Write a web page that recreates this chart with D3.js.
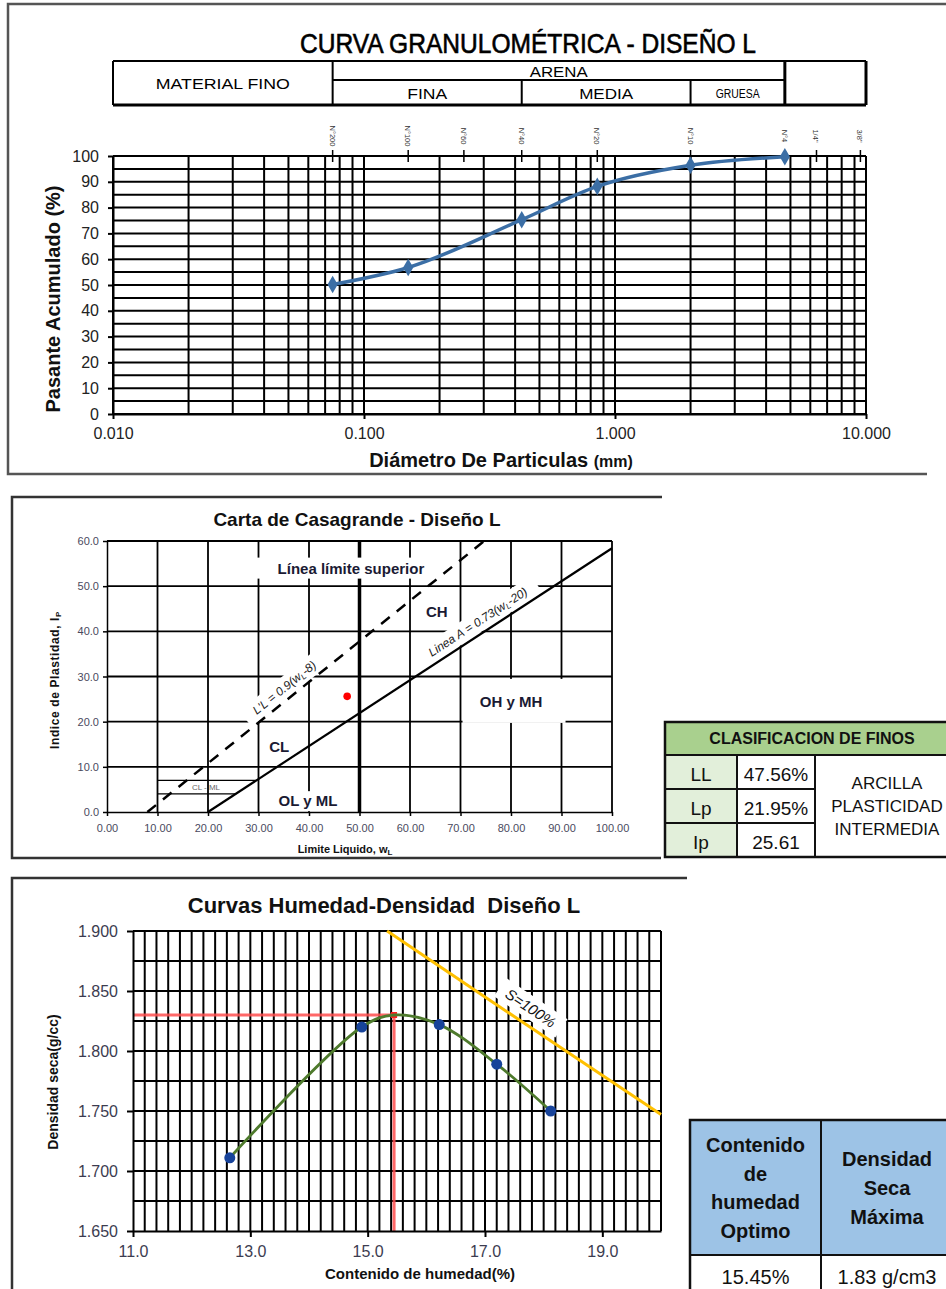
<!DOCTYPE html>
<html>
<head>
<meta charset="utf-8">
<script src="https://cdnjs.cloudflare.com/ajax/libs/d3/7.8.5/d3.min.js"></script>
<style>
  body { margin: 0; background: #fff; }
  svg { display: block; }
  text { font-family: "Liberation Sans", Arial, sans-serif; }
</style>
</head>
<body>
<svg width="946" height="1289"></svg>
<script>
// ---------- datos: curva granulometrica ----------
var sieveNames = ["N°200", "N°100", "N°60", "N°40", "N°20", "N°10", "N°4", "1/4\"", "3/8\""];
var sieveMm = [0.075, 0.150, 0.250, 0.425, 0.850, 2.000, 4.750, 6.350, 9.500];
var diametro = [0.075, 0.150, 0.425, 0.850, 2.000, 4.750];
var pasante = [50.2, 56.8, 75.3, 88.2, 96.4, 99.7];
var gradXTicks = [0.01, 0.1, 1, 10];
var gradYTicks = [0, 10, 20, 30, 40, 50, 60, 70, 80, 90, 100];
var zoneNames = ["MATERIAL FINO", "FINA", "MEDIA", "GRUESA"];
var zoneBounds = [0.01, 0.075, 0.425, 2.0, 4.75, 10];

// ---------- datos: carta de Casagrande ----------
var casaXTicks = [0, 10, 20, 30, 40, 50, 60, 70, 80, 90, 100];
var casaYTicks = [0, 10, 20, 30, 40, 50, 60];
var lineaA_w = [20, 100], lineaA_ip = [0, 58.4];
var lineaU_w = [8, 74.7], lineaU_ip = [0, 60];
var clml_ip = [4, 7], clml_wEnd = [25.5, 29.6];
var muestraLL = 47.56, muestraIP = 25.61;
var finosLabels = ["LL", "Lp", "Ip"];
var finosValues = ["47.56%", "21.95%", "25.61"];
var finosClase = ["ARCILLA", "PLASTICIDAD", "INTERMEDIA"];

// ---------- datos: proctor ----------
var humW = [12.65, 14.90, 16.22, 17.20, 18.12];
var humD = [1.711, 1.820, 1.822, 1.789, 1.750];
var optW = 15.45, optD = 1.83;
var satW = [15.33, 17.0, 20.0];
var satD = [1.900, 1.845, 1.747];
var humXTicks = [11, 13, 15, 17, 19];
var humYTicks = [1.65, 1.70, 1.75, 1.80, 1.85, 1.90];

var svg = d3.select("svg");
var narrow = '"Liberation Sans Narrow","Arial Narrow","Liberation Sans",sans-serif';
var calibri = 'Carlito,Lato,"Open Sans",sans-serif';

function styleAxis(sel, font, size, color, w) {
    sel.select(".domain").attr("stroke", "#000").attr("stroke-width", w);
    sel.selectAll(".tick line").attr("stroke", "#000").attr("stroke-width", w);
    sel.selectAll(".tick text").attr("font-family", font).attr("font-size", size).attr("fill", color);
}

// =============== CURVA GRANULOMETRICA ===============
var gx = d3.scaleLog().domain([0.01, 10]).range([113, 866]),
    gy = d3.scaleLinear().domain([0, 100]).range([414, 156]);
var p1 = svg.append("g");

p1.append("path").attr("d", "M946,4H8V474H927")
  .attr("fill", "none").attr("stroke", "#555").attr("stroke-width", 2.5);

p1.append("text")
  .attr("x", 528).attr("y", 53)
  .attr("text-anchor", "middle")
  .attr("font-family", narrow).attr("font-size", 27)
  .attr("stroke", "#000").attr("stroke-width", 0.6)
  .attr("textLength", 456).attr("lengthAdjust", "spacingAndGlyphs")
  .text("CURVA GRANULOMÉTRICA - DISEÑO L");

// tabla de cabecera
var hTop = 61, hMid = 80, hBot = 105;
var head = p1.append("g").attr("stroke", "#000").attr("fill", "none");
head.append("line").attr("x1", gx(0.01)).attr("x2", gx(10)).attr("y1", hTop).attr("y2", hTop).attr("stroke-width", 2);
head.append("line").attr("x1", gx(0.01)).attr("x2", gx(10)).attr("y1", hBot).attr("y2", hBot).attr("stroke-width", 3);
head.append("line").attr("x1", gx(0.075)).attr("x2", gx(4.75)).attr("y1", hMid).attr("y2", hMid).attr("stroke-width", 2);
zoneBounds.forEach(function(b, i) {
    head.append("line")
      .attr("x1", gx(b)).attr("x2", gx(b))
      .attr("y1", (i == 2 || i == 3) ? hMid : hTop).attr("y2", hBot)
      .attr("stroke-width", (i >= 4) ? 3 : 2);
});
p1.append("text").attr("x", (gx(0.01) + gx(0.075)) / 2).attr("y", (hTop + hBot) / 2)
  .attr("text-anchor", "middle").attr("dominant-baseline", "central")
  .attr("font-family", narrow).attr("font-size", 15)
  .attr("textLength", 134).attr("lengthAdjust", "spacingAndGlyphs")
  .text(zoneNames[0]);
p1.append("text").attr("x", (gx(0.075) + gx(4.75)) / 2).attr("y", (hTop + hMid) / 2 + 1)
  .attr("text-anchor", "middle").attr("dominant-baseline", "central")
  .attr("font-family", narrow).attr("font-size", 14)
  .attr("textLength", 58).attr("lengthAdjust", "spacingAndGlyphs")
  .text("ARENA");
[1, 2, 3].forEach(function(i) {
    var lens = [0, 40, 54, 44];
    p1.append("text")
      .attr("x", (gx(zoneBounds[i]) + gx(zoneBounds[i + 1])) / 2)
      .attr("y", (hMid + hBot) / 2 + 1)
      .attr("text-anchor", "middle").attr("dominant-baseline", "central")
      .attr("font-family", narrow).attr("font-size", i == 3 ? 12 : 14)
      .attr("textLength", lens[i]).attr("lengthAdjust", "spacingAndGlyphs")
      .text(zoneNames[i]);
});

// mallas (arriba)
sieveMm.forEach(function(s, i) {
    p1.append("line").attr("x1", gx(s)).attr("x2", gx(s)).attr("y1", 150).attr("y2", 162)
      .attr("stroke", "#000").attr("stroke-width", 1.5);
    p1.append("text")
      .attr("transform", "translate(" + (gx(s) - 3) + ",136) rotate(90)")
      .attr("text-anchor", "middle").attr("font-size", 7.5).attr("fill", "#333")
      .text(sieveNames[i]);
});

// grilla
p1.append("g").selectAll("line").data(gx.ticks()).enter().append("line")
  .attr("x1", function(d) { return gx(d); }).attr("x2", function(d) { return gx(d); })
  .attr("y1", gy(100)).attr("y2", gy(0))
  .attr("stroke", "#000").attr("stroke-width", 2);
p1.append("g").selectAll("line").data(gy.ticks(20)).enter().append("line")
  .attr("x1", gx(0.01)).attr("x2", gx(10))
  .attr("y1", function(d) { return gy(d); }).attr("y2", function(d) { return gy(d); })
  .attr("stroke", "#000").attr("stroke-width", 2);

var ax1 = p1.append("g").attr("transform", "translate(113,0)")
  .call(d3.axisLeft(gy).tickValues(gradYTicks).tickSize(5).tickPadding(9).tickSizeOuter(0));
styleAxis(ax1, "Liberation Sans", 16, "#222", 2);
var ax2 = p1.append("g").attr("transform", "translate(0,414)")
  .call(d3.axisBottom(gx).tickValues(gradXTicks).tickFormat(d3.format(".3f")).tickSize(5).tickPadding(9).tickSizeOuter(0));
styleAxis(ax2, "Liberation Sans", 16, "#222", 2);

var granData = diametro.map(function(d, i) { return [d, pasante[i]]; });
p1.append("path").datum(granData)
  .attr("fill", "none").attr("stroke", "#3b6ea5").attr("stroke-width", 3.5)
  .attr("d", d3.line()
      .x(function(d) { return gx(d[0]); })
      .y(function(d) { return gy(d[1]); })
      .curve(d3.curveMonotoneX));
p1.selectAll(".gpt").data(granData).enter().append("path")
  .attr("class", "gpt")
  .attr("transform", function(d) { return "translate(" + gx(d[0]) + "," + gy(d[1]) + ")"; })
  .attr("d", d3.symbol(d3.symbolDiamond).size(90))
  .attr("fill", "#3b6ea5");

p1.append("text")
  .attr("transform", "translate(53,299) rotate(-90)")
  .attr("text-anchor", "middle").attr("dominant-baseline", "central")
  .attr("font-size", 20).attr("font-weight", "bold").attr("fill", "#111")
  .text("Pasante Acumulado (%)");
var xt1 = p1.append("text").attr("x", 501).attr("y", 467)
  .attr("text-anchor", "middle").attr("font-weight", "bold").attr("fill", "#111");
xt1.append("tspan").attr("font-size", 20).text("Diámetro De Particulas ");
xt1.append("tspan").attr("font-size", 16).text("(mm)");

// =============== CARTA DE CASAGRANDE ===============
var cx = d3.scaleLinear().domain([0, 100]).range([107, 612]),
    cy = d3.scaleLinear().domain([0, 60]).range([812, 541]);
var p2 = svg.append("g");

p2.append("path").attr("d", "M662,497H12V858H661")
  .attr("fill", "none").attr("stroke", "#333").attr("stroke-width", 2.5);

p2.append("text").attr("x", 357).attr("y", 526)
  .attr("text-anchor", "middle").attr("font-size", 19).attr("font-weight", "bold").attr("fill", "#111")
  .text("Carta de Casagrande - Diseño L");

p2.append("g").selectAll("line").data(casaXTicks.slice(1)).enter().append("line")
  .attr("x1", function(d) { return cx(d); }).attr("x2", function(d) { return cx(d); })
  .attr("y1", cy(60)).attr("y2", cy(0))
  .attr("stroke", "#000").attr("stroke-width", function(d) { return d == 50 ? 3.5 : 1.8; });
p2.append("g").selectAll("line").data(casaYTicks.slice(1)).enter().append("line")
  .attr("x1", cx(0)).attr("x2", cx(100))
  .attr("y1", function(d) { return cy(d); }).attr("y2", function(d) { return cy(d); })
  .attr("stroke", "#000").attr("stroke-width", 1.8);

// cajas blancas bajo etiquetas
var casaBoxes = [
    { w: 48.3, ip: 54.0, bw: 198, bh: 21 },
    { w: 65.3, ip: 44.3, bw: 30, bh: 22 },
    { w: 80.6, ip: 24.6, bw: 103, bh: 44 },
    { w: 39.8, ip: 2.4, bw: 70, bh: 20 }
];
p2.selectAll(".box").data(casaBoxes).enter().append("rect")
  .attr("x", function(d) { return cx(d.w) - d.bw / 2; })
  .attr("y", function(d) { return cy(d.ip) - d.bh / 2; })
  .attr("width", function(d) { return d.bw; }).attr("height", function(d) { return d.bh; })
  .attr("fill", "#fff");

// etiquetas rotadas a lo largo de las lineas
function slopeAngle(w, ip) {
    var dx = cx(w[1]) - cx(w[0]), dy = cy(ip[1]) - cy(ip[0]);
    return Math.atan2(dy, dx);
}
function rotLabel(w, ip, at, off, bw, parts) {
    var a = slopeAngle(w, ip);
    var t = (at - w[0]) / (w[1] - w[0]);
    var px = cx(at), py = cy(ip[0] + t * (ip[1] - ip[0]));
    px += off * Math.sin(a); py -= off * Math.cos(a);
    var g = p2.append("g").attr("transform", "translate(" + px + "," + py + ") rotate(" + (a * 180 / Math.PI) + ")");
    g.append("rect").attr("x", -bw / 2).attr("y", -10).attr("width", bw).attr("height", 20).attr("fill", "#fff");
    var tx = g.append("text").attr("text-anchor", "middle").attr("dominant-baseline", "central")
      .attr("font-size", 12).attr("font-style", "italic").attr("fill", "#222");
    parts.forEach(function(p) {
        var s = tx.append("tspan").text(p[0]);
        if (p[1]) s.attr("font-size", 8).attr("dy", 3);
        else if (p[2]) s.attr("dy", -3);
    });
}
rotLabel(lineaU_w, lineaU_ip, 36.5, 11, 100, [["L'L = 0.9(w"], ["L", 1], ["-8)", 0, 1]]);
rotLabel(lineaA_w, lineaA_ip, 74.7, 11.5, 140, [["Linea A = 0.73(w"], ["L", 1], ["-20)", 0, 1]]);

p2.append("line")
  .attr("x1", cx(lineaU_w[0])).attr("y1", cy(lineaU_ip[0]))
  .attr("x2", cx(lineaU_w[1])).attr("y2", cy(lineaU_ip[1]))
  .attr("stroke", "#000").attr("stroke-width", 2.5).attr("stroke-dasharray", "11,9");
p2.append("line")
  .attr("x1", cx(lineaA_w[0])).attr("y1", cy(lineaA_ip[0]))
  .attr("x2", cx(lineaA_w[1])).attr("y2", cy(lineaA_ip[1]))
  .attr("stroke", "#000").attr("stroke-width", 2.2);
clml_ip.forEach(function(v, i) {
    p2.append("line")
      .attr("x1", cx(10)).attr("x2", cx(clml_wEnd[i]))
      .attr("y1", cy(v)).attr("y2", cy(v))
      .attr("stroke", "#000").attr("stroke-width", 1.3);
});

var ax3 = p2.append("g").attr("transform", "translate(107,0)")
  .call(d3.axisLeft(cy).tickValues(casaYTicks).tickFormat(d3.format(".1f")).tickSize(4).tickPadding(4).tickSizeOuter(0));
styleAxis(ax3, "DejaVu Sans", 11, "#4a4a5e", 1.5);
var ax4 = p2.append("g").attr("transform", "translate(0,812)")
  .call(d3.axisBottom(cx).tickValues(casaXTicks).tickFormat(d3.format(".2f")).tickSize(4).tickPadding(8).tickSizeOuter(0));
styleAxis(ax4, "DejaVu Sans", 11, "#4a4a5e", 1.5);

var casaLabels = [
    { w: 48.3, ip: 54.0, t: "Línea límite superior" },
    { w: 65.3, ip: 44.3, t: "CH" },
    { w: 80.0, ip: 24.4, t: "OH y MH" },
    { w: 34.1, ip: 14.4, t: "CL" },
    { w: 39.8, ip: 2.6, t: "OL y ML" }
];
p2.selectAll(".lbl").data(casaLabels).enter().append("text")
  .attr("x", function(d) { return cx(d.w); }).attr("y", function(d) { return cy(d.ip); })
  .attr("text-anchor", "middle").attr("dominant-baseline", "central")
  .attr("font-family", calibri).attr("font-weight", "bold").attr("font-size", 15).attr("fill", "#1a1a33")
  .text(function(d) { return d.t; });
p2.append("text").attr("x", cx(19.6)).attr("y", cy(5.4))
  .attr("text-anchor", "middle").attr("dominant-baseline", "central")
  .attr("font-size", 8).attr("fill", "#666").text("CL - ML");

p2.append("circle").attr("cx", cx(muestraLL)).attr("cy", cy(muestraIP)).attr("r", 3.8).attr("fill", "#ff0000");

var yt2 = p2.append("text").attr("transform", "translate(55,680) rotate(-90)")
  .attr("text-anchor", "middle").attr("dominant-baseline", "central")
  .attr("font-size", 12).attr("font-weight", "bold").attr("letter-spacing", 0.6).attr("fill", "#111");
yt2.append("tspan").text("Indice de Plastidad, I");
yt2.append("tspan").attr("font-size", 8).attr("dy", 3).text("P");
var xt2 = p2.append("text").attr("x", 345).attr("y", 853)
  .attr("text-anchor", "middle").attr("font-size", 11).attr("font-weight", "bold").attr("fill", "#111");
xt2.append("tspan").text("Limite Liquido, w");
xt2.append("tspan").attr("font-size", 8).attr("dy", 2).text("L");

// tabla clasificacion de finos
var tX = [665, 737, 815, 960], tY = [722, 755, 789, 823, 857];
var t1 = svg.append("g");
t1.append("rect").attr("x", tX[0]).attr("y", tY[0]).attr("width", tX[3] - tX[0]).attr("height", tY[1] - tY[0]).attr("fill", "#a9d08e");
t1.append("rect").attr("x", tX[0]).attr("y", tY[1]).attr("width", tX[1] - tX[0]).attr("height", tY[4] - tY[1]).attr("fill", "#e2efda");
t1.append("rect").attr("x", tX[0]).attr("y", tY[0]).attr("width", tX[3] - tX[0]).attr("height", tY[4] - tY[0])
  .attr("fill", "none").attr("stroke", "#111").attr("stroke-width", 2.5);
t1.append("line").attr("x1", tX[0]).attr("x2", tX[3]).attr("y1", tY[1]).attr("y2", tY[1]).attr("stroke", "#111").attr("stroke-width", 2);
[tY[2], tY[3]].forEach(function(y) {
    t1.append("line").attr("x1", tX[0]).attr("x2", tX[2]).attr("y1", y).attr("y2", y).attr("stroke", "#111").attr("stroke-width", 2);
});
[tX[1], tX[2]].forEach(function(x) {
    t1.append("line").attr("x1", x).attr("x2", x).attr("y1", tY[1]).attr("y2", tY[4]).attr("stroke", "#111").attr("stroke-width", 2);
});
t1.append("text").attr("x", 812).attr("y", (tY[0] + tY[1]) / 2)
  .attr("text-anchor", "middle").attr("dominant-baseline", "central")
  .attr("font-family", calibri).attr("font-weight", "bold").attr("font-size", 16).attr("fill", "#111")
  .text("CLASIFICACION DE FINOS");
finosLabels.forEach(function(l, i) {
    var yc = (tY[i + 1] + tY[i + 2]) / 2;
    t1.append("text").attr("x", (tX[0] + tX[1]) / 2).attr("y", yc + 2)
      .attr("text-anchor", "middle").attr("dominant-baseline", "central")
      .attr("font-family", calibri).attr("font-size", 19).attr("fill", "#111").text(l);
    t1.append("text").attr("x", (tX[1] + tX[2]) / 2).attr("y", yc + 2)
      .attr("text-anchor", "middle").attr("dominant-baseline", "central")
      .attr("font-family", calibri).attr("font-size", 19).attr("fill", "#111").text(finosValues[i]);
    t1.append("text").attr("x", 887).attr("y", 783 + i * 23)
      .attr("text-anchor", "middle").attr("dominant-baseline", "central")
      .attr("font-family", calibri).attr("font-size", 17).attr("fill", "#111").text(finosClase[i]);
});

// =============== CURVAS HUMEDAD-DENSIDAD ===============
var hx = d3.scaleLinear().domain([11, 20]).range([133, 661]),
    hy = d3.scaleLinear().domain([1.65, 1.90]).range([1231, 931]);
var p3 = svg.append("g");

p3.append("path").attr("d", "M687,878H12V1289")
  .attr("fill", "none").attr("stroke", "#333").attr("stroke-width", 2.5);

p3.append("text").attr("x", 384).attr("y", 913)
  .attr("text-anchor", "middle").attr("font-size", 22).attr("font-weight", "bold").attr("fill", "#111")
  .style("white-space", "pre")
  .text("Curvas Humedad-Densidad  Diseño L");

p3.append("g").selectAll("line").data(hx.ticks(45).slice(1)).enter().append("line")
  .attr("x1", function(d) { return hx(d); }).attr("x2", function(d) { return hx(d); })
  .attr("y1", hy(1.9)).attr("y2", hy(1.65))
  .attr("stroke", "#000").attr("stroke-width", 2);
p3.append("g").selectAll("line").data(d3.range(1, 11).map(function(i) { return 1.65 + i * 0.025; })).enter().append("line")
  .attr("x1", hx(11)).attr("x2", hx(20))
  .attr("y1", function(d) { return hy(d); }).attr("y2", function(d) { return hy(d); })
  .attr("stroke", "#000").attr("stroke-width", 2);

// etiqueta S=100%
var satLabel = [17.78, 1.836];
var sg = p3.append("g").attr("transform", "translate(" + hx(satLabel[0]) + "," + hy(satLabel[1]) + ") rotate(34)");
sg.append("rect").attr("x", -37).attr("y", -11).attr("width", 74).attr("height", 22).attr("fill", "#fff");
sg.append("text").attr("text-anchor", "middle").attr("dominant-baseline", "central")
  .attr("font-family", calibri).attr("font-style", "italic").attr("font-size", 15).attr("fill", "#111")
  .text("S=100%");

var satData = satW.map(function(w, i) { return [w, satD[i]]; });
p3.append("path").datum(satData)
  .attr("fill", "none").attr("stroke", "#ffc000").attr("stroke-width", 3)
  .attr("d", d3.line().x(function(d) { return hx(d[0]); }).y(function(d) { return hy(d[1]); }).curve(d3.curveMonotoneX));

// lineas del optimo
p3.append("path")
  .attr("d", "M" + hx(11) + "," + hy(optD) + "H" + hx(optW) + "V" + hy(1.65))
  .attr("fill", "none").attr("stroke", "#ff4d4d").attr("stroke-width", 3).attr("opacity", 0.85);
p3.append("rect").attr("x", hx(optW) - 3).attr("y", hy(optD) - 3).attr("width", 6).attr("height", 6).attr("fill", "#ff2020");

var curva = humW.map(function(w, i) { return [w, humD[i]]; });
curva.splice(2, 0, [optW, optD]);
p3.append("path").datum(curva)
  .attr("fill", "none").attr("stroke", "#4e7a2c").attr("stroke-width", 2.8)
  .attr("d", d3.line().x(function(d) { return hx(d[0]); }).y(function(d) { return hy(d[1]); }).curve(d3.curveCatmullRom.alpha(0.5)));
p3.selectAll(".hpt").data(humW).enter().append("circle")
  .attr("cx", function(d) { return hx(d); })
  .attr("cy", function(d, i) { return hy(humD[i]); })
  .attr("r", 5.5).attr("fill", "#17439a");

var ax5 = p3.append("g").attr("transform", "translate(133,0)")
  .call(d3.axisLeft(hy).tickValues(humYTicks).tickFormat(d3.format(".3f")).tickSize(6).tickPadding(9).tickSizeOuter(0));
styleAxis(ax5, "Liberation Sans", 16, "#3c3c50", 2);
var ax6 = p3.append("g").attr("transform", "translate(0,1231)")
  .call(d3.axisBottom(hx).tickValues(humXTicks).tickFormat(d3.format(".1f")).tickSize(6).tickPadding(9).tickSizeOuter(0));
styleAxis(ax6, "Liberation Sans", 16, "#3c3c50", 2);

p3.append("text").attr("transform", "translate(53,1082) rotate(-90)")
  .attr("text-anchor", "middle").attr("dominant-baseline", "central")
  .attr("font-size", 14).attr("font-weight", "bold").attr("fill", "#111")
  .text("Densidad seca(g/cc)");
p3.append("text").attr("x", 420).attr("y", 1279)
  .attr("text-anchor", "middle").attr("font-size", 15).attr("font-weight", "bold").attr("fill", "#111")
  .text("Contenido de humedad(%)");

// tabla optimo
var bX = [690, 821, 953], bY = [1120, 1255, 1300];
var t2 = svg.append("g");
t2.append("rect").attr("x", bX[0]).attr("y", bY[0]).attr("width", bX[2] - bX[0]).attr("height", bY[1] - bY[0]).attr("fill", "#9dc3e6");
t2.append("rect").attr("x", bX[0]).attr("y", bY[0]).attr("width", bX[2] - bX[0]).attr("height", bY[2] - bY[0])
  .attr("fill", "none").attr("stroke", "#111").attr("stroke-width", 2.5);
t2.append("line").attr("x1", bX[0]).attr("x2", bX[2]).attr("y1", bY[1]).attr("y2", bY[1]).attr("stroke", "#111").attr("stroke-width", 2);
t2.append("line").attr("x1", bX[1]).attr("x2", bX[1]).attr("y1", bY[0]).attr("y2", bY[2]).attr("stroke", "#111").attr("stroke-width", 2);
var optHead = [["Contenido", "de", "humedad", "Optimo"], ["Densidad", "Seca", "Máxima"]];
var optVals = [optW.toFixed(2) + "%", optD.toFixed(2) + " g/cm3"];
optHead.forEach(function(lines, c) {
    var xc = (bX[c] + bX[c + 1]) / 2;
    lines.forEach(function(l, j) {
        t2.append("text").attr("x", xc).attr("y", 1188 + (j - (lines.length - 1) / 2) * 28.7)
          .attr("text-anchor", "middle").attr("dominant-baseline", "central")
          .attr("font-family", calibri).attr("font-weight", "bold").attr("font-size", 20).attr("fill", "#111")
          .text(l);
    });
    t2.append("text").attr("x", xc).attr("y", 1277)
      .attr("text-anchor", "middle").attr("dominant-baseline", "central")
      .attr("font-family", calibri).attr("font-size", 20).attr("fill", "#111")
      .text(optVals[c]);
});
</script>
</body>
</html>
